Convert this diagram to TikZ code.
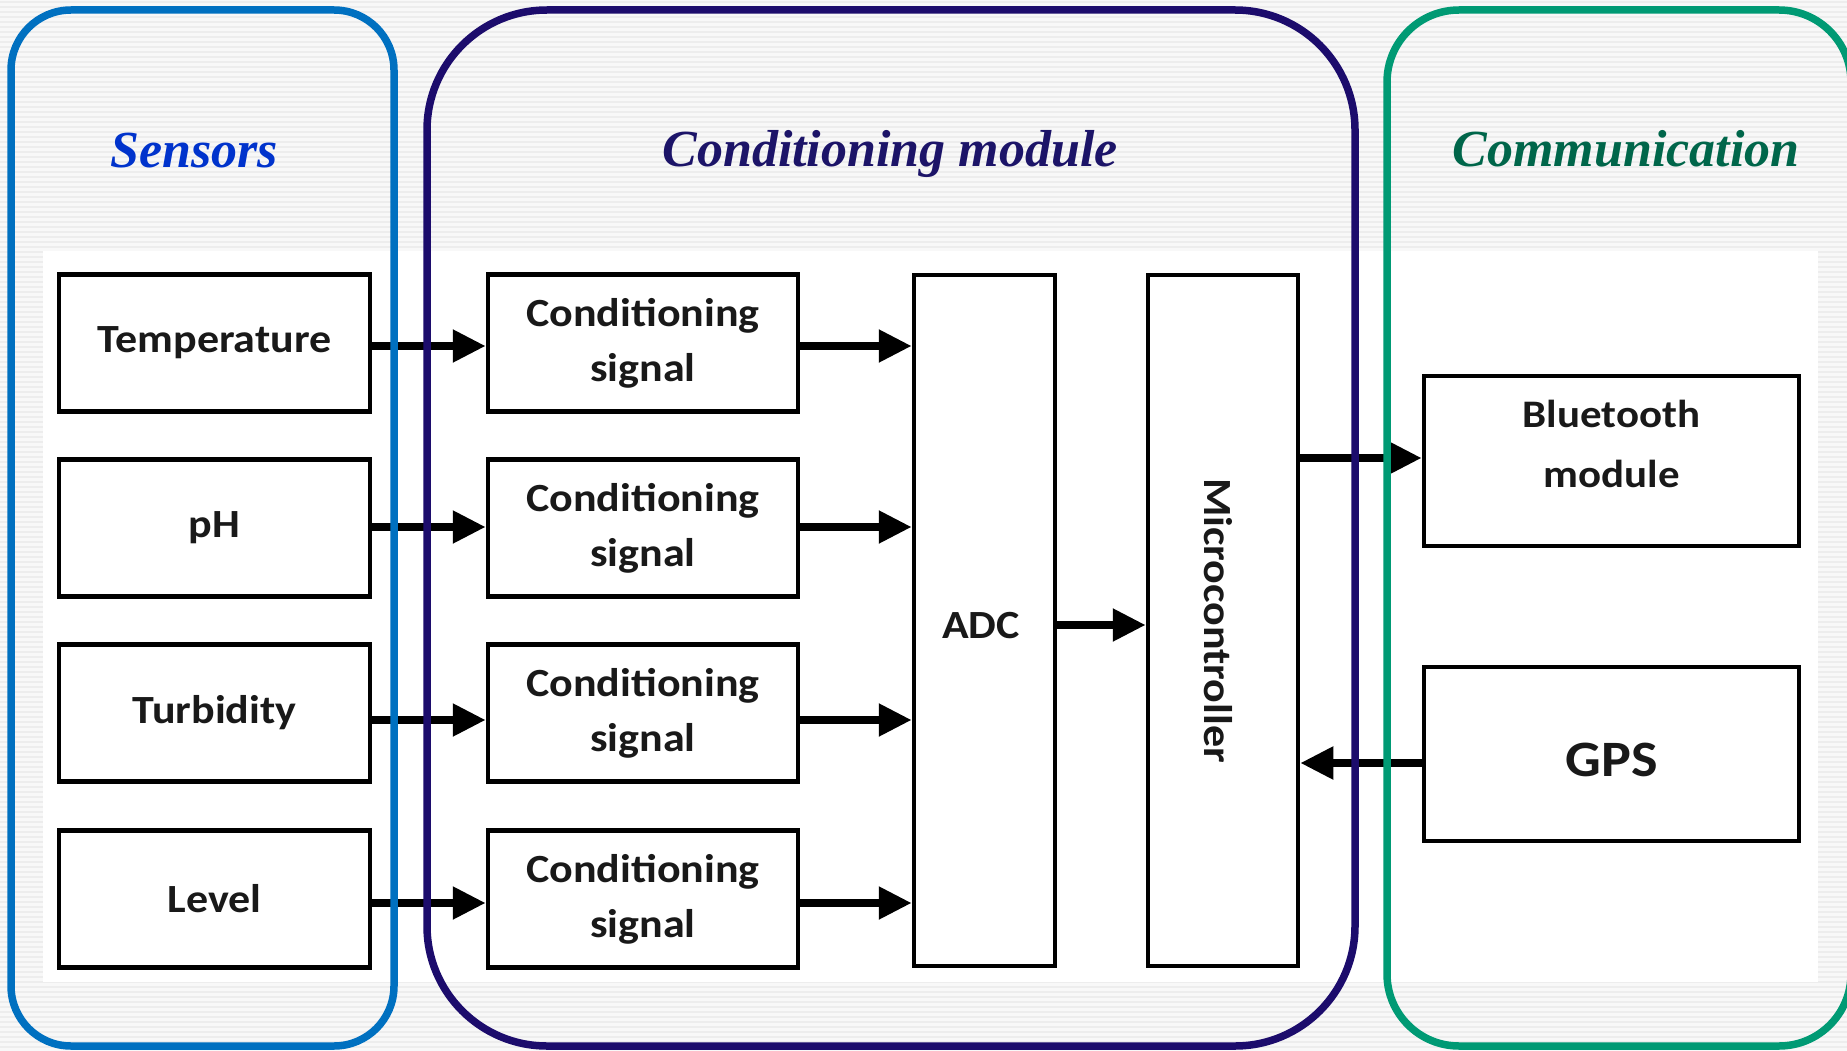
\documentclass[tikz,border=0pt]{standalone}
\usepackage{fontspec}
\setmainfont{Liberation Serif}
\newfontfamily\boxfont[FakeStretch=1.1]{Carlito}
\usetikzlibrary{arrows.meta}
\definecolor{sensblue}{HTML}{0070C0}
\definecolor{senstext}{HTML}{0033CC}
\definecolor{condnavy}{HTML}{1C0C6C}
\definecolor{condtext}{HTML}{1C1468}
\definecolor{commgreen}{HTML}{009A74}
\definecolor{commtext}{HTML}{00664A}
\definecolor{stripe}{HTML}{EDEDED}
\definecolor{bgray}{HTML}{F8F8F8}
\begin{document}
\begin{tikzpicture}[x=1pt,y=-1pt,
  blk/.style={draw=black, line width=4.5pt, fill=white, inner sep=0pt,
    font=\boxfont\bfseries\fontsize{40}{55}\selectfont, align=center, text=black!90},
  lbl/.style={inner sep=0pt, font=\boxfont\bfseries\fontsize{40}{55}\selectfont, text=black!90},
  arr/.style={line width=8pt, -{Triangle[length=33pt,width=31pt]}},
  frame/.style={line width=7.5pt},
  head/.style={inner sep=0pt, anchor=base, font=\bfseries\itshape\fontsize{52}{60}\selectfont},
]
\useasboundingbox (0,0) rectangle (1847,1051);
% background
\fill[bgray] (0,0) rectangle (1847,1051);
\foreach \yy in {2,7,...,1051} \draw[stripe, line width=1.6pt] (0,\yy) -- (1847,\yy);
\fill[white] (43,251) rectangle (1818,982);

% sensor boxes
\node[blk, minimum width=311, minimum height=137] (temp) at (214.5,343) {Temperature};
\node[blk, minimum width=311, minimum height=137] (ph)   at (214.5,528) {pH};
\node[blk, minimum width=311, minimum height=137] (turb) at (214.5,713) {Turbidity};
\node[blk, minimum width=311, minimum height=137] (lev)  at (214.5,899) {Level};

% conditioning boxes
\node[blk, minimum width=310, minimum height=137] (c1) at (643,343) {Conditioning\\signal};
\node[blk, minimum width=310, minimum height=137] (c2) at (643,528) {Conditioning\\signal};
\node[blk, minimum width=310, minimum height=137] (c3) at (643,713) {Conditioning\\signal};
\node[blk, minimum width=310, minimum height=137] (c4) at (643,899) {Conditioning\\signal};

% ADC and microcontroller
\node[blk, minimum width=141, minimum height=691] (adc) at (984.5,620.5) {};
\node[lbl] (adctext) at (981,626) {ADC};
\node[blk, minimum width=150, minimum height=691] (mcu) at (1223,620.5) {};
\node[lbl, rotate=-90] (mcutext) at (1218,620.5) {Microcontroller};

% communication boxes
\node[blk, minimum width=375, minimum height=170] (bt) at (1611.5,461) {};
\node[lbl, align=center, font=\boxfont\bfseries\fontsize{39}{60}\selectfont] (bttext) at (1611.5,444) {Bluetooth\\module};
\node[blk, minimum width=375, minimum height=174] (gps) at (1611.5,754) {};
\node[lbl, font=\boxfont\bfseries\fontsize{51}{60}\selectfont] (gpstext) at (1611.5,760) {GPS};

% arrows
\draw[arr] ([yshift=-3pt]temp.east) -- ([yshift=-3pt]c1.west);
\draw[arr] ([yshift=1pt]ph.east) -- ([yshift=1pt]c2.west);
\draw[arr] ([yshift=-7pt]turb.east) -- ([yshift=-7pt]c3.west);
\draw[arr] ([yshift=-4pt]lev.east) -- ([yshift=-4pt]c4.west);
\draw[arr] ([yshift=-3pt]c1.east) -- ([yshift=-3pt]c1.east -| adc.west);
\draw[arr] ([yshift=1pt]c2.east) -- ([yshift=1pt]c2.east -| adc.west);
\draw[arr] ([yshift=-7pt]c3.east) -- ([yshift=-7pt]c3.east -| adc.west);
\draw[arr] ([yshift=-4pt]c4.east) -- ([yshift=-4pt]c4.east -| adc.west);
\draw[arr] ([yshift=-4.5pt]adc.east) -- ([yshift=-4.5pt]adc.east -| mcu.west);
\draw[arr] ([yshift=3pt]bt.west -| mcu.east) -- ([yshift=3pt]bt.west);
\draw[arr] ([yshift=-9pt]gps.west) -- ([yshift=-9pt]gps.west -| mcu.east);

% frames
\draw[frame, draw=sensblue, rounded corners=60pt] (11,10) rectangle (394,1046);
\draw[frame, draw=condnavy, rounded corners=120pt] (427,10) rectangle (1355,1046);
\draw[frame, draw=commgreen, rounded corners=72pt] (1387,10) rectangle (1851,1046);

% headings
\node[head, text=senstext] (hsens) at (194,168) {Sensors};
\node[head, text=condtext] (hcond) at (890,167) {Conditioning module};
\node[head, text=commtext] (hcomm) at (1626,167) {Communication};
\end{tikzpicture}
\end{document}
